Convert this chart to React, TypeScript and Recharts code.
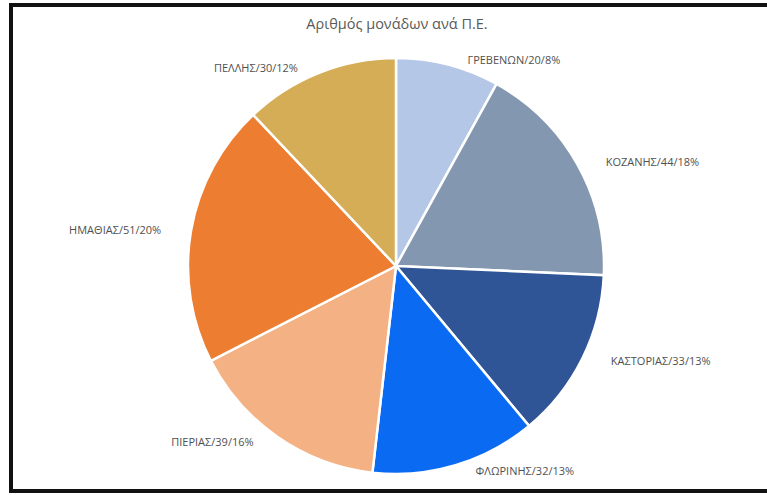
import { Cell, Pie, PieChart } from 'recharts';

// units per regional unit, clockwise from 12 o'clock
const regions = ['ΓΡΕΒΕΝΩΝ', 'ΚΟΖΑΝΗΣ', 'ΚΑΣΤΟΡΙΑΣ', 'ΦΛΩΡΙΝΗΣ', 'ΠΙΕΡΙΑΣ', 'ΗΜΑΘΙΑΣ', 'ΠΕΛΛΗΣ'];
const units = [20, 44, 33, 32, 39, 51, 30];
const colors = ['#B4C7E7', '#8497B0', '#2F5597', '#0A6AF2', '#F4B183', '#ED7D31', '#D5AD56'];

const data = regions.map((name, i) => ({ name, value: units[i] }));

const RADIAN = Math.PI / 180;

const renderLabel = (props: any) => {
    const { cx, cy, midAngle, outerRadius, value, percent } = props;
    const name = props.name ?? props.payload?.name;
    const cos = Math.cos(-midAngle * RADIAN);
    const sin = Math.sin(-midAngle * RADIAN);
    const r = outerRadius + 14;
    // push labels sideways, keep them a bit closer vertically
    const x = cx + r * cos + (cos >= 0 ? 16 : -16);
    const y = cy + (r - 8.5) * sin;
    return (
        <text
            x={x}
            y={y}
            fill="#505050"
            fontSize={11}
            fontFamily="'Open Sans', sans-serif"
            textAnchor={cos >= 0 ? 'start' : 'end'}
            dominantBaseline="central"
        >
            {`${name}/${value}/${Math.round(percent * 100)}%`}
        </text>
    );
};

const App: React.FunctionComponent = () => {
    return (
        <div style={{ position: 'absolute', left: 0, top: 0, width: 767, height: 495, background: '#fff', overflow: 'hidden' }}>
            <div
                style={{
                    position: 'absolute',
                    left: 9,
                    top: 3,
                    width: 790,
                    height: 490,
                    border: '4px solid #111',
                    boxSizing: 'border-box',
                }}
            />
            <div
                style={{
                    position: 'absolute',
                    left: 0,
                    top: 14,
                    width: 794,
                    textAlign: 'center',
                    fontFamily: "'Open Sans', sans-serif",
                    fontSize: 14.5,
                    color: '#595959',
                }}
            >
                Αριθμός μονάδων ανά Π.Ε.
            </div>
            <div style={{ position: 'absolute', left: 0, top: 0 }}>
                <PieChart width={767} height={495}>
                    <Pie
                        data={data}
                        dataKey="value"
                        nameKey="name"
                        cx={391}
                        cy={261}
                        outerRadius={208}
                        startAngle={90}
                        endAngle={-270}
                        stroke="#fff"
                        strokeWidth={2.5}
                        label={renderLabel}
                        labelLine={false}
                        isAnimationActive={false}
                    >
                        {data.map((d, i) => (
                            <Cell key={d.name} fill={colors[i]} />
                        ))}
                    </Pie>
                </PieChart>
            </div>
        </div>
    );
};

export default App;
